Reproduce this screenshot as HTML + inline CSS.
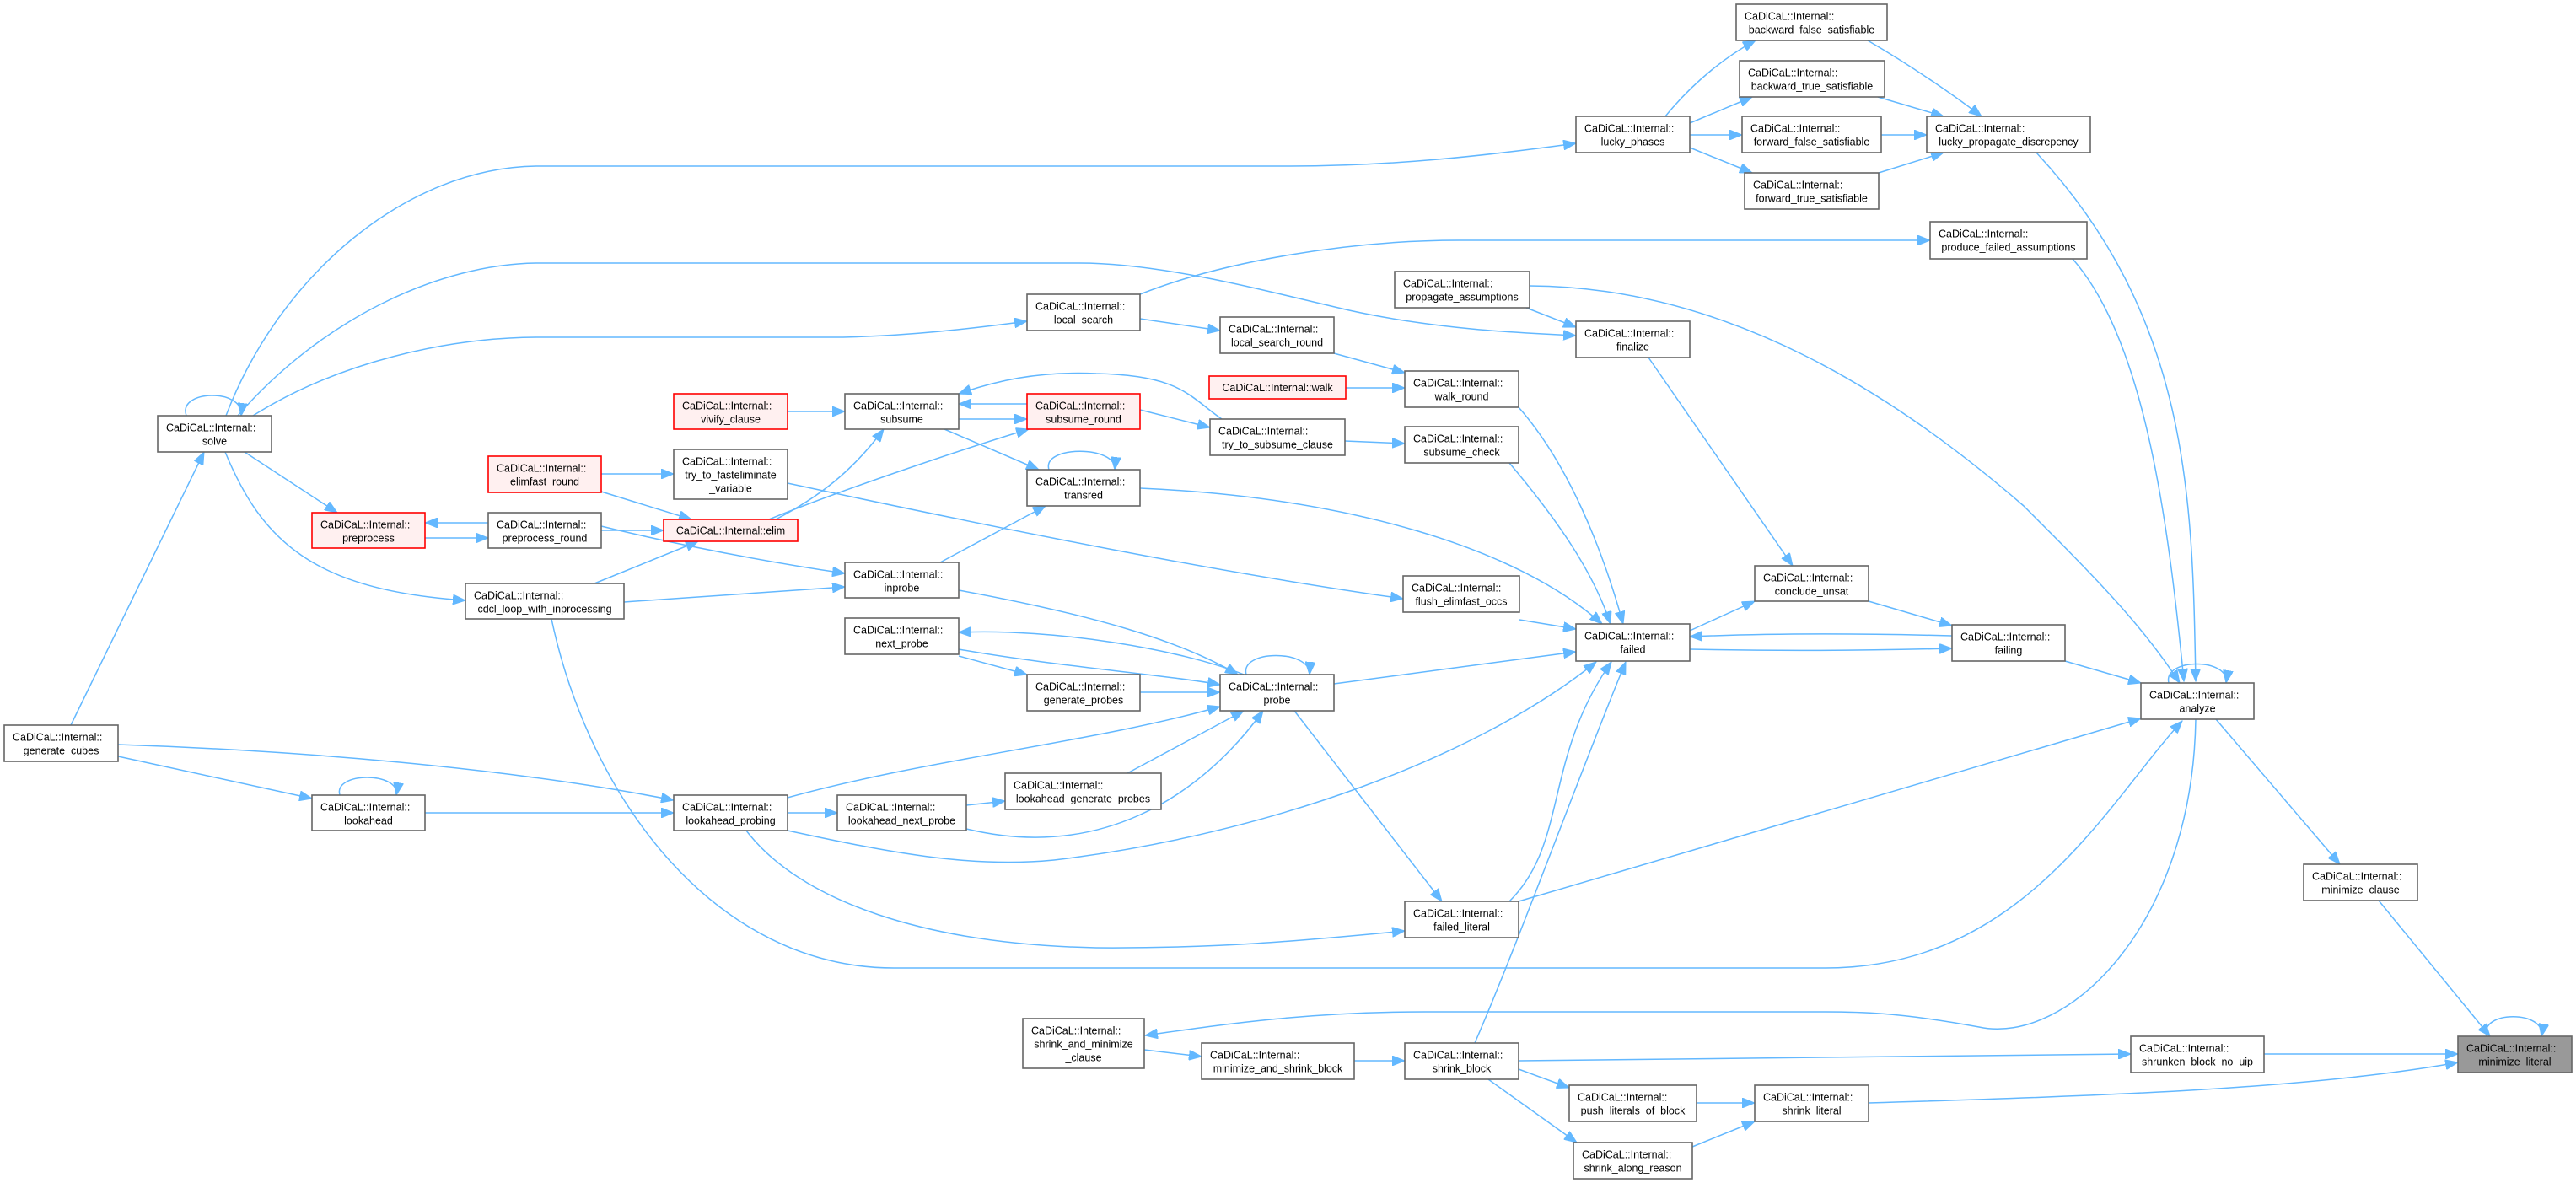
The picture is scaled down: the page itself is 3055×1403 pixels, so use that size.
<!DOCTYPE html>
<html><head><meta charset="utf-8"><style>
html,body{margin:0;padding:0;background:#fff;}
svg{display:block;}
text{font-family:"Liberation Sans",Arial,sans-serif;font-size:12.5px;fill:#000;}
.n{fill:#fff;stroke:#666;stroke-width:1.6;}
.r{fill:#FFF0F0;stroke:#FF0000;stroke-width:1.6;}
.g{fill:#999;stroke:#666;stroke-width:1.6;}
.e{fill:none;stroke:#63B8FF;stroke-width:1.5;marker-end:url(#a);}
.c{text-anchor:middle;}
</style></head><body>
<svg width="3055" height="1403" viewBox="0 0 3055 1403" xmlns="http://www.w3.org/2000/svg">
<defs><marker id="a" markerUnits="userSpaceOnUse" markerWidth="16" markerHeight="12" refX="15" refY="6" orient="auto"><path d="M0,0 L15,6 L0,12 z" fill="#63B8FF" stroke="#63B8FF"/></marker></defs>
<g>
<path class="e" d="M2215,48 C2270,80 2320,115 2350,138"/>
<path class="e" d="M2227,115 L2305,138"/>
<path class="e" d="M2231,160 L2285,160"/>
<path class="e" d="M2228,205 L2305,181"/>
<path class="e" d="M1975,138 C2010,95 2050,65 2082,48"/>
<path class="e" d="M2004,146 L2078,115"/>
<path class="e" d="M2004,160 L2066,160"/>
<path class="e" d="M2004,175 L2078,205"/>
<path class="e" d="M268,493 C330,330 480,197 640,197 L1530,197 C1650,197 1760,185 1869,170"/>
<path class="e" d="M282,493 C380,380 520,312 640,312 L1280,312 C1380,312 1500,345 1600,368 C1700,390 1800,395 1869,398"/>
<path class="e" d="M300,493 C400,430 530,400 640,400 L1000,400 C1080,398 1150,390 1218,381"/>
<path class="e" d="M1352,349 C1450,310 1600,285 1730,285 L2289,285"/>
<path class="e" d="M1352,378 L1447,392"/>
<path class="e" d="M1810,365 L1869,388"/>
<path class="e" d="M1814,339 C2050,340 2250,470 2400,600 C2480,680 2540,740 2585,810"/>
<path class="e" d="M1582,419 L1666,442"/>
<path class="e" d="M1596,460 L1666,460"/>
<path class="e" d="M1955,424 L2126,671"/>
<path class="e" d="M2004,748 L2081,713"/>
<path class="e" d="M2216,713 L2315,742"/>
<path class="e" d="M2315,754 C2200,751 2100,751 2004,755"/>
<path class="e" d="M2004,770 C2100,772 2200,772 2315,769"/>
<path class="e" d="M2449,784 L2539,810"/>
<path class="e" d="M2415,181 C2600,380 2600,600 2604,808"/>
<path class="e" d="M2458,307 C2540,400 2570,600 2590,808"/>
<path class="e" d="M2628,853 L2775,1025"/>
<path class="e" d="M2821,1068 L2953,1229"/>
<path class="e" d="M2685,1250 L2915,1250"/>
<path class="e" d="M2216,1308 C2500,1300 2750,1290 2915,1260"/>
<path class="e" d="M1801,1069 L2539,852"/>
<path class="e" d="M654,734 C700,950 850,1148 1060,1148 L2165,1148 C2400,1148 2500,950 2588,855"/>
<path class="e" d="M2604,853 C2600,1100 2450,1240 2347,1218 C2250,1200 2200,1200 2165,1200 L1690,1200 C1550,1200 1450,1215 1358,1228"/>
<path class="e" d="M1357,1245 L1425,1253"/>
<path class="e" d="M1606,1258 L1666,1258"/>
<path class="e" d="M1801,1258 L2527,1250"/>
<path class="e" d="M1801,1268 L1861,1290"/>
<path class="e" d="M1765,1280 L1870,1355"/>
<path class="e" d="M2012,1308 L2081,1308"/>
<path class="e" d="M2007,1360 L2081,1330"/>
<path class="e" d="M1749,1237 C1800,1120 1880,900 1928,785"/>
<path class="e" d="M1790,1069 C1860,1000 1830,900 1911,785"/>
<path class="e" d="M1582,811 L1869,773"/>
<path class="e" d="M1535,843 L1710,1069"/>
<path class="e" d="M934,985 C1050,1010 1150,1030 1250,1020 C1500,990 1750,900 1893,785"/>
<path class="e" d="M934,946 C1100,900 1300,880 1447,838"/>
<path class="e" d="M1146,983 C1300,1020 1420,950 1498,843"/>
<path class="e" d="M1146,955 L1192,950"/>
<path class="e" d="M1337,917 L1475,843"/>
<path class="e" d="M934,964 L993,964"/>
<path class="e" d="M885,985 C950,1070 1100,1120 1300,1124 C1450,1125 1550,1115 1666,1104"/>
<path class="e" d="M140,883 C350,890 600,910 799,949"/>
<path class="e" d="M140,897 L370,947"/>
<path class="e" d="M84,860 L242,536"/>
<path class="e" d="M504,964 L799,964"/>
<path class="e" d="M1475,800 C1400,770 1250,745 1137,750"/>
<path class="e" d="M1137,770 C1250,790 1380,800 1447,812"/>
<path class="e" d="M1137,778 L1218,800"/>
<path class="e" d="M1352,821 L1447,821"/>
<path class="e" d="M1137,700 C1300,730 1400,760 1468,800"/>
<path class="e" d="M1352,579 C1600,590 1800,650 1900,740"/>
<path class="e" d="M1801,483 C1860,550 1900,650 1925,740"/>
<path class="e" d="M1790,549 C1850,620 1890,680 1910,740"/>
<path class="e" d="M1802,735 L1869,746"/>
<path class="e" d="M934,573 C1200,630 1450,680 1664,710"/>
<path class="e" d="M713,624 C800,645 900,665 1002,680"/>
<path class="e" d="M740,714 L1002,696"/>
<path class="e" d="M705,692 L828,642"/>
<path class="e" d="M713,629 L787,629"/>
<path class="e" d="M713,583 L820,616"/>
<path class="e" d="M713,562 L799,562"/>
<path class="e" d="M934,488 L1002,488"/>
<path class="e" d="M920,616 C970,590 1010,560 1048,509"/>
<path class="e" d="M912,616 C1000,580 1150,530 1220,509"/>
<path class="e" d="M1137,497 L1218,497"/>
<path class="e" d="M1218,479 L1137,479"/>
<path class="e" d="M1449,497 C1410,470 1400,445 1300,443 C1230,440 1180,452 1137,467"/>
<path class="e" d="M1352,486 L1435,507"/>
<path class="e" d="M1595,523 L1666,526"/>
<path class="e" d="M1120,509 L1232,557"/>
<path class="e" d="M1115,667 L1240,600"/>
<path class="e" d="M290,536 L400,608"/>
<path class="e" d="M579,620 L504,620"/>
<path class="e" d="M504,638 L579,638"/>
<path class="e" d="M267,536 C310,640 370,700 552,712"/>
<path class="e" d="M221,493 C210,462 290,460 286,493"/>
<path class="e" d="M1244,557 C1235,528 1325,528 1322,557"/>
<path class="e" d="M403,943 C395,915 475,915 470,943"/>
<path class="e" d="M1478,800 C1470,770 1555,770 1553,800"/>
<path class="e" d="M2572,810 C2565,780 2645,780 2640,810"/>
<path class="e" d="M2949,1229 C2940,1198 3020,1198 3014,1229"/>
</g>
<g>
<rect class="n" x="2059" y="5" width="179" height="43"/><text x="2069" y="23.5">CaDiCaL::Internal::</text><text class="c" x="2148.5" y="39.5">backward_false_satisfiable</text>
<rect class="n" x="2063" y="72" width="172" height="43"/><text x="2073" y="90.5">CaDiCaL::Internal::</text><text class="c" x="2149" y="106.5">backward_true_satisfiable</text>
<rect class="n" x="2066" y="138" width="165" height="43"/><text x="2076" y="156.5">CaDiCaL::Internal::</text><text class="c" x="2148.5" y="172.5">forward_false_satisfiable</text>
<rect class="n" x="2069" y="205" width="159" height="43"/><text x="2079" y="223.5">CaDiCaL::Internal::</text><text class="c" x="2148.5" y="239.5">forward_true_satisfiable</text>
<rect class="n" x="2285" y="138" width="194" height="43"/><text x="2295" y="156.5">CaDiCaL::Internal::</text><text class="c" x="2382" y="172.5">lucky_propagate_discrepency</text>
<rect class="n" x="2289" y="263" width="186" height="44"/><text x="2299" y="281.5">CaDiCaL::Internal::</text><text class="c" x="2382" y="297.5">produce_failed_assumptions</text>
<rect class="n" x="1869" y="138" width="135" height="43"/><text x="1879" y="156.5">CaDiCaL::Internal::</text><text class="c" x="1936.5" y="172.5">lucky_phases</text>
<rect class="n" x="1218" y="349" width="134" height="43"/><text x="1228" y="367.5">CaDiCaL::Internal::</text><text class="c" x="1285" y="383.5">local_search</text>
<rect class="n" x="1447" y="376" width="135" height="43"/><text x="1457" y="394.5">CaDiCaL::Internal::</text><text class="c" x="1514.5" y="410.5">local_search_round</text>
<rect class="n" x="1654" y="322" width="160" height="43"/><text x="1664" y="340.5">CaDiCaL::Internal::</text><text class="c" x="1734" y="356.5">propagate_assumptions</text>
<rect class="n" x="1869" y="381" width="135" height="43"/><text x="1879" y="399.5">CaDiCaL::Internal::</text><text class="c" x="1936.5" y="415.5">finalize</text>
<rect class="r" x="1434" y="446" width="162" height="27"/><text class="c" x="1515" y="464">CaDiCaL::Internal::walk</text>
<rect class="n" x="1666" y="440" width="135" height="43"/><text x="1676" y="458.5">CaDiCaL::Internal::</text><text class="c" x="1733.5" y="474.5">walk_round</text>
<rect class="n" x="1002" y="467" width="135" height="42"/><text x="1012" y="485.5">CaDiCaL::Internal::</text><text class="c" x="1069.5" y="501.5">subsume</text>
<rect class="r" x="1218" y="467" width="134" height="42"/><text x="1228" y="485.5">CaDiCaL::Internal::</text><text class="c" x="1285" y="501.5">subsume_round</text>
<rect class="n" x="1435" y="497" width="160" height="43"/><text x="1445" y="515.5">CaDiCaL::Internal::</text><text class="c" x="1515" y="531.5">try_to_subsume_clause</text>
<rect class="n" x="1666" y="506" width="135" height="43"/><text x="1676" y="524.5">CaDiCaL::Internal::</text><text class="c" x="1733.5" y="540.5">subsume_check</text>
<rect class="n" x="1218" y="557" width="134" height="43"/><text x="1228" y="575.5">CaDiCaL::Internal::</text><text class="c" x="1285" y="591.5">transred</text>
<rect class="r" x="799" y="467" width="135" height="42"/><text x="809" y="485.5">CaDiCaL::Internal::</text><text class="c" x="866.5" y="501.5">vivify_clause</text>
<rect class="r" x="579" y="541" width="134" height="43"/><text x="589" y="559.5">CaDiCaL::Internal::</text><text class="c" x="646" y="575.5">elimfast_round</text>
<rect class="n" x="799" y="533" width="135" height="59"/><text x="809" y="551.5">CaDiCaL::Internal::</text><text class="c" x="866.5" y="567.5">try_to_fasteliminate</text><text class="c" x="866.5" y="583.5">_variable</text>
<rect class="n" x="579" y="608" width="134" height="42"/><text x="589" y="626.5">CaDiCaL::Internal::</text><text class="c" x="646" y="642.5">preprocess_round</text>
<rect class="r" x="787" y="616" width="159" height="26"/><text class="c" x="866.5" y="633.5">CaDiCaL::Internal::elim</text>
<rect class="n" x="552" y="692" width="188" height="42"/><text x="562" y="710.5">CaDiCaL::Internal::</text><text class="c" x="646" y="726.5">cdcl_loop_with_inprocessing</text>
<rect class="r" x="370" y="608" width="134" height="42"/><text x="380" y="626.5">CaDiCaL::Internal::</text><text class="c" x="437" y="642.5">preprocess</text>
<rect class="n" x="187" y="493" width="135" height="43"/><text x="197" y="511.5">CaDiCaL::Internal::</text><text class="c" x="254.5" y="527.5">solve</text>
<rect class="n" x="1002" y="667" width="135" height="42"/><text x="1012" y="685.5">CaDiCaL::Internal::</text><text class="c" x="1069.5" y="701.5">inprobe</text>
<rect class="n" x="1664" y="683" width="138" height="43"/><text x="1674" y="701.5">CaDiCaL::Internal::</text><text class="c" x="1733" y="717.5">flush_elimfast_occs</text>
<rect class="n" x="2081" y="671" width="135" height="42"/><text x="2091" y="689.5">CaDiCaL::Internal::</text><text class="c" x="2148.5" y="705.5">conclude_unsat</text>
<rect class="n" x="1869" y="740" width="135" height="44"/><text x="1879" y="758.5">CaDiCaL::Internal::</text><text class="c" x="1936.5" y="774.5">failed</text>
<rect class="n" x="2315" y="741" width="134" height="43"/><text x="2325" y="759.5">CaDiCaL::Internal::</text><text class="c" x="2382" y="775.5">failing</text>
<rect class="n" x="2539" y="810" width="134" height="43"/><text x="2549" y="828.5">CaDiCaL::Internal::</text><text class="c" x="2606" y="844.5">analyze</text>
<rect class="n" x="1002" y="733" width="135" height="43"/><text x="1012" y="751.5">CaDiCaL::Internal::</text><text class="c" x="1069.5" y="767.5">next_probe</text>
<rect class="n" x="1218" y="800" width="134" height="43"/><text x="1228" y="818.5">CaDiCaL::Internal::</text><text class="c" x="1285" y="834.5">generate_probes</text>
<rect class="n" x="1447" y="800" width="135" height="43"/><text x="1457" y="818.5">CaDiCaL::Internal::</text><text class="c" x="1514.5" y="834.5">probe</text>
<rect class="n" x="5" y="860" width="135" height="43"/><text x="15" y="878.5">CaDiCaL::Internal::</text><text class="c" x="72.5" y="894.5">generate_cubes</text>
<rect class="n" x="370" y="943" width="134" height="42"/><text x="380" y="961.5">CaDiCaL::Internal::</text><text class="c" x="437" y="977.5">lookahead</text>
<rect class="n" x="799" y="943" width="135" height="42"/><text x="809" y="961.5">CaDiCaL::Internal::</text><text class="c" x="866.5" y="977.5">lookahead_probing</text>
<rect class="n" x="993" y="943" width="153" height="42"/><text x="1003" y="961.5">CaDiCaL::Internal::</text><text class="c" x="1069.5" y="977.5">lookahead_next_probe</text>
<rect class="n" x="1192" y="917" width="185" height="43"/><text x="1202" y="935.5">CaDiCaL::Internal::</text><text class="c" x="1284.5" y="951.5">lookahead_generate_probes</text>
<rect class="n" x="2732" y="1025" width="135" height="43"/><text x="2742" y="1043.5">CaDiCaL::Internal::</text><text class="c" x="2799.5" y="1059.5">minimize_clause</text>
<rect class="n" x="1666" y="1069" width="135" height="43"/><text x="1676" y="1087.5">CaDiCaL::Internal::</text><text class="c" x="1733.5" y="1103.5">failed_literal</text>
<rect class="n" x="1213" y="1208" width="144" height="59"/><text x="1223" y="1226.5">CaDiCaL::Internal::</text><text class="c" x="1285" y="1242.5">shrink_and_minimize</text><text class="c" x="1285" y="1258.5">_clause</text>
<rect class="n" x="1425" y="1237" width="181" height="43"/><text x="1435" y="1255.5">CaDiCaL::Internal::</text><text class="c" x="1515.5" y="1271.5">minimize_and_shrink_block</text>
<rect class="n" x="1666" y="1237" width="135" height="43"/><text x="1676" y="1255.5">CaDiCaL::Internal::</text><text class="c" x="1733.5" y="1271.5">shrink_block</text>
<rect class="n" x="2527" y="1229" width="158" height="43"/><text x="2537" y="1247.5">CaDiCaL::Internal::</text><text class="c" x="2606" y="1263.5">shrunken_block_no_uip</text>
<rect class="g" x="2915" y="1229" width="135" height="43"/><text x="2925" y="1247.5">CaDiCaL::Internal::</text><text class="c" x="2982.5" y="1263.5">minimize_literal</text>
<rect class="n" x="1861" y="1287" width="151" height="43"/><text x="1871" y="1305.5">CaDiCaL::Internal::</text><text class="c" x="1936.5" y="1321.5">push_literals_of_block</text>
<rect class="n" x="2081" y="1287" width="135" height="43"/><text x="2091" y="1305.5">CaDiCaL::Internal::</text><text class="c" x="2148.5" y="1321.5">shrink_literal</text>
<rect class="n" x="1866" y="1355" width="141" height="43"/><text x="1876" y="1373.5">CaDiCaL::Internal::</text><text class="c" x="1936.5" y="1389.5">shrink_along_reason</text>
</g>
</svg>
</body></html>
